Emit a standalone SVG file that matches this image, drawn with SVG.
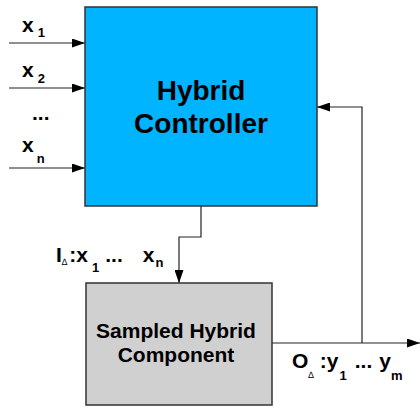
<svg xmlns="http://www.w3.org/2000/svg" width="420" height="408" viewBox="0 0 420 408">
  <defs>
    <marker id="arrow" markerWidth="13" markerHeight="9" refX="13" refY="4.5" orient="auto" markerUnits="userSpaceOnUse">
      <path d="M0,0 L13,4.5 L0,9 Z" fill="#000"/>
    </marker>
    <style>
      .box { stroke: #333; stroke-width: 1.5; }
      .wire { fill: none; stroke: #222; stroke-width: 1.2; }
      .title { font-family: "Liberation Sans", Arial, sans-serif; font-weight: bold; text-anchor: middle; fill: #000; }
      .lbl { font-family: "Liberation Sans", Arial, sans-serif; font-weight: bold; font-size: 21px; fill: #000; }
      .sub { font-size: 13px; }
      .delta { font-size: 9px; font-weight: normal; }
    </style>
  </defs>
  <rect width="420" height="408" fill="#fff"/>

  <g id="connectors">
    <line class="wire" x1="9" y1="43" x2="85" y2="43" marker-end="url(#arrow)"/>
    <line class="wire" x1="9" y1="88" x2="85" y2="88" marker-end="url(#arrow)"/>
    <line class="wire" x1="9" y1="168" x2="85" y2="168" marker-end="url(#arrow)"/>
    <polyline class="wire" points="201,206 201,237 179,237 179,283" marker-end="url(#arrow)"/>
    <line class="wire" x1="272" y1="343" x2="420" y2="343" marker-end="url(#arrow)"/>
    <polyline class="wire" points="362,343 362,107 317,107" marker-end="url(#arrow)"/>
  </g>

  <g id="controller">
    <rect class="box" x="85" y="7" width="232" height="199" fill="#00b4ff"/>
    <text class="title" x="201" y="100" font-size="28">Hybrid</text>
    <text class="title" x="201" y="133" font-size="28">Controller</text>
  </g>

  <g id="component">
    <rect class="box" x="86" y="283" width="186" height="122" fill="#d0d0d0"/>
    <text class="title" x="176" y="338" font-size="21">Sampled Hybrid</text>
    <text class="title" x="176" y="362" font-size="21">Component</text>
  </g>

  <g id="input-labels">
    <text class="lbl" x="22" y="32">x<tspan class="sub" dx="4" dy="5">1</tspan></text>
    <text class="lbl" x="22" y="77">x<tspan class="sub" dx="4" dy="6">2</tspan></text>
    <text class="lbl" x="32" y="120">...</text>
    <text class="lbl" x="22" y="152">x<tspan class="sub" dx="3" dy="11">n</tspan></text>
  </g>

  <g id="io-labels">
    <text class="lbl" x="56" y="262">I<tspan class="delta" dy="3">∆</tspan><tspan dx="2" dy="-3">:x</tspan><tspan class="sub" dx="4" dy="10">1</tspan><tspan dx="6" dy="-10">...</tspan><tspan dx="20">x</tspan><tspan class="sub" dx="1" dy="5">n</tspan></text>
    <text class="lbl" x="292" y="368">O<tspan class="delta" dy="10">∆</tspan><tspan dx="6" dy="-10">:y</tspan><tspan class="sub" dx="1" dy="12">1</tspan><tspan dx="8" dy="-12">...</tspan><tspan dx="7">y</tspan><tspan class="sub" dy="12">m</tspan></text>
  </g>
</svg>
